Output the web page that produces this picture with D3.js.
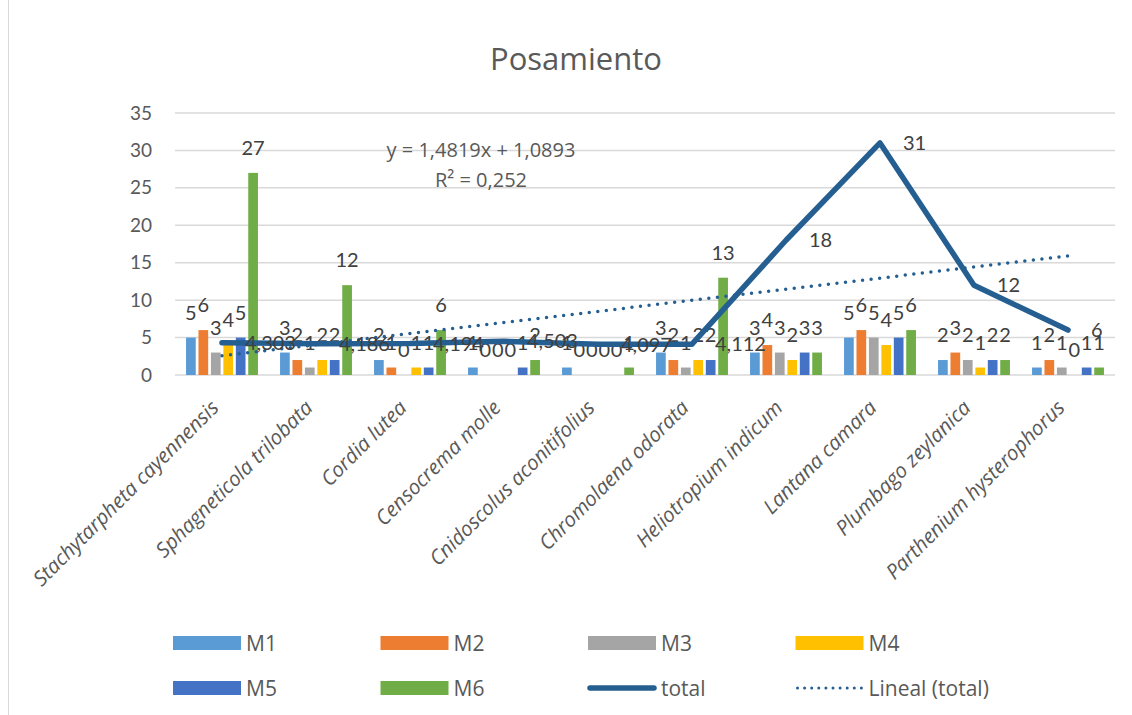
<!DOCTYPE html>
<html lang="es">
<head>
  <meta charset="UTF-8">
  <title>Posamiento</title>
  <script src="https://d3js.org/d3.v7.min.js"></script>
  <style>
    body { margin: 0; background: #fff; }
    svg text { font-family: Lato, "Open Sans", sans-serif; }
    svg text.os { font-family: "Open Sans", Lato, sans-serif; }
  </style>
</head>
<body>
  <div id="chart"></div>
  <script>
    // datos
    const categories = [
      "Stachytarpheta cayennensis", "Sphagneticola trilobata", "Cordia lutea",
      "Censocrema molle", "Cnidoscolus aconitifolius", "Chromolaena odorata",
      "Heliotropium indicum", "Lantana camara", "Plumbago zeylanica",
      "Parthenium hysterophorus"
    ];
    const seriesNames = ["M1", "M2", "M3", "M4", "M5", "M6"];
    const m1 = [5, 3, 2, 1, 1, 3, 3, 5, 2, 1];
    const m2 = [6, 2, 1, 0, 0, 2, 4, 6, 3, 2];
    const m3 = [3, 1, 0, 0, 0, 1, 3, 5, 2, 1];
    const m4 = [4, 2, 1, 0, 0, 2, 2, 4, 1, 0];
    const m5 = [5, 2, 1, 1, 0, 2, 3, 5, 2, 1];
    const m6 = [27, 12, 6, 2, 1, 13, 3, 6, 2, 1];
    const total = [4.303, 4.186, 4.194, 4.503, 4.097, 4.112, 18, 31, 12, 6];
    const trend = { slope: 1.4819, intercept: 1.0893, r2: "0,252" };
    const yTicks = [0, 5, 10, 15, 20, 25, 30, 35];
    const colors = ["#5B9BD5", "#ED7D31", "#A5A5A5", "#FFC000", "#4472C4", "#70AD47"];
    const lineColor = "#255E91";

    const seriesValues = [m1, m2, m3, m4, m5, m6];

    const W = 1132, H = 715;
    const svg = d3.select("#chart").append("svg")
      .attr("width", W).attr("height", H);

    // borde del gráfico
    svg.append("line")
      .attr("x1", 8.5).attr("x2", 8.5).attr("y1", 0).attr("y2", H)
      .attr("stroke", "#D9D9D9").attr("stroke-width", 1);

    const x0 = d3.scaleBand().domain(categories).range([175, 1115])
      .paddingInner(0.235).paddingOuter(0.1175);
    const x1 = d3.scaleBand().domain(seriesNames).range([0, x0.bandwidth()])
      .paddingInner(0.22);
    const y = d3.scaleLinear().domain([0, 35]).range([375, 113]);
    const cx = c => x0(c) + x0.bandwidth() / 2;

    // título
    svg.append("text")
      .attr("class", "os")
      .attr("x", 576).attr("y", 70)
      .attr("text-anchor", "middle")
      .attr("font-size", 31).attr("fill", "#595959")
      .text("Posamiento");

    // rejilla
    svg.append("g").selectAll("line")
      .data(yTicks).enter().append("line")
      .attr("x1", 175).attr("x2", 1115)
      .attr("y1", d => y(d)).attr("y2", d => y(d))
      .attr("stroke", "#D9D9D9").attr("stroke-width", 1.5);

    // eje y
    const yAxis = svg.append("g")
      .attr("transform", "translate(152,0)")
      .call(d3.axisLeft(y).tickValues(yTicks).tickSize(0).tickPadding(0));
    yAxis.select(".domain").remove();
    yAxis.selectAll("text")
      .attr("font-size", 19).attr("fill", "#595959")
      .attr("font-family", "Lato, sans-serif");

    // eje x (etiquetas giradas)
    svg.append("g").selectAll("text")
      .data(categories).enter().append("text")
      .attr("class", "os")
      .attr("transform", d => `translate(${cx(d) - 2},${409}) rotate(-45)`)
      .attr("text-anchor", "end")
      .attr("font-size", 20.5).attr("font-style", "italic")
      .attr("fill", "#595959")
      .text(d => d);

    // barras
    const groups = svg.append("g").selectAll("g")
      .data(seriesNames).enter().append("g")
      .attr("fill", (d, i) => colors[i]);

    groups.selectAll("rect")
      .data((s, i) => categories.map((c, j) => ({ c, s, v: seriesValues[i][j] })))
      .enter().append("rect")
      .attr("x", d => x0(d.c) + x1(d.s))
      .attr("width", x1.bandwidth())
      .attr("y", d => y(d.v))
      .attr("height", d => y(0) - y(d.v));

    // línea de tendencia (Lineal (total))
    const trendPts = [1, categories.length].map(n => ({
      c: categories[n - 1], v: trend.slope * n + trend.intercept
    }));
    svg.append("path")
      .datum(trendPts)
      .attr("fill", "none")
      .attr("stroke", lineColor)
      .attr("stroke-width", 3.5)
      .attr("stroke-linecap", "round")
      .attr("stroke-dasharray", "0 8.6")
      .attr("d", d3.line().x(d => cx(d.c)).y(d => y(d.v)));

    // línea total
    svg.append("path")
      .datum(categories.map((c, j) => ({ c, v: total[j] })))
      .attr("fill", "none")
      .attr("stroke", lineColor)
      .attr("stroke-width", 5.5)
      .attr("stroke-linejoin", "round")
      .attr("stroke-linecap", "round")
      .attr("d", d3.line().x(d => cx(d.c)).y(d => y(d.v)));

    // etiquetas de datos de las barras
    groups.selectAll("text")
      .data((s, i) => categories.map((c, j) => ({ c, s, v: seriesValues[i][j] })))
      .enter().append("text")
      .attr("x", d => x0(d.c) + x1(d.s) + x1.bandwidth() / 2)
      .attr("y", d => y(d.v) - 18)
      .attr("text-anchor", "middle")
      .attr("font-size", 20).attr("fill", "#404040")
      .text(d => d.v);

    // etiquetas de la línea total
    svg.append("g").selectAll("text")
      .data(categories.map((c, j) => ({ c, v: total[j] })))
      .enter().append("text")
      .attr("x", d => cx(d.c) + 23)
      .attr("y", d => y(d.v))
      .attr("dy", "0.36em")
      .attr("font-size", 20).attr("fill", "#404040")
      .text(d => String(d.v).replace(".", ","));

    // ecuación
    svg.append("text")
      .attr("class", "os")
      .attr("x", 481).attr("y", 157)
      .attr("text-anchor", "middle")
      .attr("font-size", 20).attr("fill", "#595959")
      .text(`y = ${String(trend.slope).replace(".", ",")}x + ${String(trend.intercept).replace(".", ",")}`);
    svg.append("text")
      .attr("class", "os")
      .attr("x", 481).attr("y", 187)
      .attr("text-anchor", "middle")
      .attr("font-size", 20).attr("fill", "#595959")
      .text(`R² = ${trend.r2}`);

    // leyenda
    const legendItems = seriesNames.map((s, i) => ({ name: s, type: "bar", color: colors[i] }))
      .concat([{ name: "total", type: "line" }, { name: "Lineal (total)", type: "dots" }]);

    const legend = svg.append("g").selectAll("g")
      .data(legendItems).enter().append("g")
      .attr("transform", (d, i) => `translate(${173 + (i % 4) * 207.5},${643 + Math.floor(i / 4) * 45})`);

    legend.filter(d => d.type === "bar").append("rect")
      .attr("x", 0).attr("y", -7).attr("width", 68).attr("height", 14)
      .attr("fill", d => d.color);
    legend.filter(d => d.type === "line").append("line")
      .attr("x1", 2).attr("x2", 66).attr("y1", 0).attr("y2", 0)
      .attr("stroke", lineColor).attr("stroke-width", 5.5)
      .attr("stroke-linecap", "round");
    legend.filter(d => d.type === "dots").append("line")
      .attr("x1", 2).attr("x2", 66).attr("y1", 0).attr("y2", 0)
      .attr("stroke", lineColor).attr("stroke-width", 3)
      .attr("stroke-linecap", "round")
      .attr("stroke-dasharray", "0 7.1");
    legend.append("text")
      .attr("class", "os")
      .attr("x", 73).attr("y", 0).attr("dy", "0.36em")
      .attr("font-size", 21).attr("fill", "#595959")
      .text(d => d.name);
  </script>
</body>
</html>
